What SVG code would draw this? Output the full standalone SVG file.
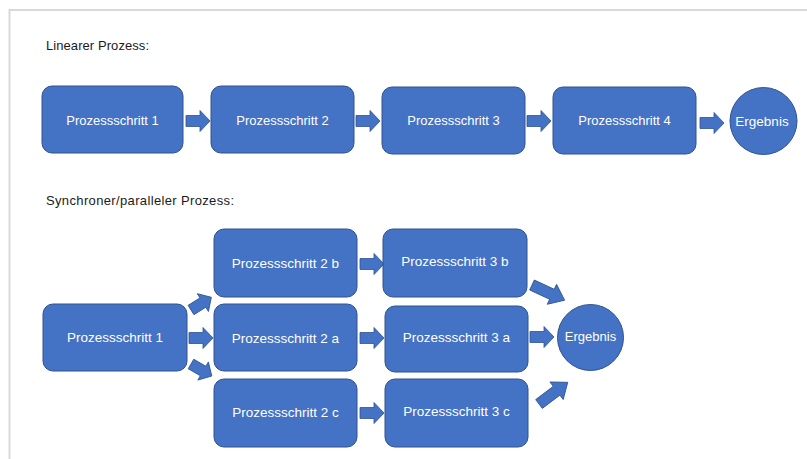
<svg xmlns="http://www.w3.org/2000/svg" width="807" height="459" viewBox="0 0 807 459">
<defs>
<style>
.box{fill:#4472C4;stroke:#2F528F;stroke-width:1}
.arr{fill:#4472C4;stroke:#2F528F;stroke-width:0.8}
.t{font-family:"Liberation Sans",Arial,sans-serif;font-size:13px;fill:#ffffff;text-anchor:middle;dominant-baseline:central}
.h{font-family:"Liberation Sans",Arial,sans-serif;font-size:13px;fill:#1a1a1a}
.frame{stroke:#d9d9d9;stroke-width:2;fill:none}
</style>
<path id="a" d="M0,-5.5 H14 V-10.5 L24,0 L14,10.5 V5.5 H0 Z"/>
<path id="al" d="M0,-5.5 H22 V-11 L36,0 L22,11 V5.5 H0 Z"/>
</defs>
<rect width="807" height="459" fill="#ffffff"/>
<path class="frame" d="M9.5,459 V10 H807"/>
<text class="h" x="46" y="50" textLength="103">Linearer Prozess:</text>
<text class="h" x="46" y="205" textLength="188">Synchroner/paralleler Prozess:</text>

<g id="connectors">
<use href="#a" class="arr" transform="translate(186,121)"/>
<use href="#a" class="arr" transform="translate(356,121)"/>
<use href="#a" class="arr" transform="translate(527,121)"/>
<use href="#a" class="arr" transform="translate(700,123)"/>
<use href="#a" class="arr" transform="translate(191,310) rotate(-32)"/>
<use href="#a" class="arr" transform="translate(189,338)"/>
<use href="#a" class="arr" transform="translate(191,364) rotate(30)"/>
<use href="#a" class="arr" transform="translate(360,264)"/>
<use href="#a" class="arr" transform="translate(360,338)"/>
<use href="#a" class="arr" transform="translate(360,413)"/>
<use href="#al" class="arr" transform="translate(532,285) rotate(25)"/>
<use href="#a" class="arr" transform="translate(530,337)"/>
<use href="#al" class="arr" transform="translate(539,404) rotate(-37)"/>
</g>

<g id="l1"><rect class="box" x="42" y="86" width="141" height="67" rx="10"/><text class="t" x="112.5" y="120">Prozessschritt 1</text></g>
<g id="l2"><rect class="box" x="211" y="86" width="143" height="67" rx="10"/><text class="t" x="282.5" y="120">Prozessschritt 2</text></g>
<g id="l3"><rect class="box" x="382" y="87" width="143" height="67" rx="10"/><text class="t" x="453.5" y="120">Prozessschritt 3</text></g>
<g id="l4"><rect class="box" x="553" y="87" width="143" height="67" rx="10"/><text class="t" x="624.5" y="120">Prozessschritt 4</text></g>
<g id="lres"><circle class="box" cx="763.5" cy="121" r="33.5"/><text class="t" x="762" y="121" style="font-size:13.5px">Ergebnis</text></g>

<g id="p1"><rect class="box" x="43" y="304" width="144" height="67" rx="10"/><text class="t" x="115" y="337" style="font-size:13.5px">Prozessschritt 1</text></g>
<g id="p2b"><rect class="box" x="214" y="229" width="143" height="68" rx="10"/><text class="t" x="285.5" y="263" style="font-size:13.5px">Prozessschritt 2 b</text></g>
<g id="p2a"><rect class="box" x="214" y="304" width="143" height="67" rx="10"/><text class="t" x="285.5" y="338" style="font-size:13.5px">Prozessschritt 2 a</text></g>
<g id="p2c"><rect class="box" x="214" y="379" width="143" height="68" rx="10"/><text class="t" x="285.5" y="412" style="font-size:13.5px">Prozessschritt 2 c</text></g>
<g id="p3b"><rect class="box" x="383" y="229" width="144" height="68" rx="10"/><text class="t" x="455" y="261" style="font-size:13.5px">Prozessschritt 3 b</text></g>
<g id="p3a"><rect class="box" x="385" y="306" width="143" height="66" rx="10"/><text class="t" x="456.5" y="337" style="font-size:13.5px">Prozessschritt 3 a</text></g>
<g id="p3c"><rect class="box" x="385" y="379" width="143" height="68" rx="10"/><text class="t" x="456.5" y="411" style="font-size:13.5px">Prozessschritt 3 c</text></g>
<g id="pres"><circle class="box" cx="590.5" cy="337.5" r="33"/><text class="t" x="590.5" y="336">Ergebnis</text></g>
</svg>
